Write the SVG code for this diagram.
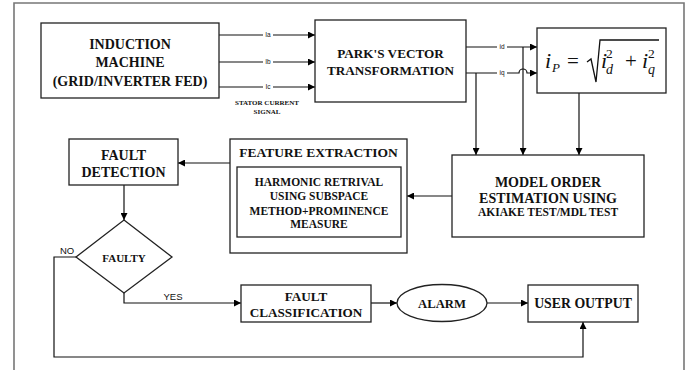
<svg xmlns="http://www.w3.org/2000/svg" width="691" height="370" viewBox="0 0 691 370">
<defs>
<marker id="ah" viewBox="0 0 10 10" refX="10" refY="5" markerWidth="7" markerHeight="7" markerUnits="userSpaceOnUse" orient="auto">
<path d="M0,0 L10,5 L0,10 z" fill="#000"/>
</marker>
<style>
.box{fill:#fff;stroke:#222;stroke-width:1.3}
.t{font-family:"Liberation Serif","Times New Roman",serif;font-weight:bold;fill:#111;text-anchor:middle}
.s{font-family:"Liberation Sans",Arial,sans-serif;fill:#111;text-anchor:middle}
.ln{fill:none;stroke:#111;stroke-width:1.2}
.lab{fill:#fff}
.m{font-family:"Liberation Serif","Times New Roman",serif;font-style:italic;fill:#111}
.mn{font-family:"Liberation Serif","Times New Roman",serif;font-style:normal;fill:#111}
</style>
</defs>
<rect width="691" height="370" fill="#fff"/>
<path d="M14,370 V3 H684 V370" fill="none" stroke="#777" stroke-width="1.6"/>

<g id="connectors">
<line class="ln" x1="219" y1="35" x2="315" y2="35" marker-end="url(#ah)"/>
<line class="ln" x1="219" y1="62" x2="315" y2="62" marker-end="url(#ah)"/>
<line class="ln" x1="219" y1="87" x2="315" y2="87" marker-end="url(#ah)"/>
<rect class="lab" x="263" y="31" width="10" height="8"/>
<rect class="lab" x="263" y="58" width="10" height="8"/>
<rect class="lab" x="263" y="83" width="10" height="8"/>
<text class="s" x="268" y="37.2" font-size="6.5">Ia</text>
<text class="s" x="268" y="64.2" font-size="6.5">Ib</text>
<text class="s" x="268" y="89.2" font-size="6.5">Ic</text>

<line class="ln" x1="466" y1="47" x2="537" y2="47" marker-end="url(#ah)"/>
<path class="ln" d="M466,73 H519 A4,4 0 0 1 527,73 H537" marker-end="url(#ah)"/>
<rect class="lab" x="497" y="43" width="10" height="8"/>
<rect class="lab" x="497" y="69" width="10" height="8"/>
<text class="s" x="502" y="49.2" font-size="6.5">id</text>
<text class="s" x="502" y="75.2" font-size="6.5">iq</text>

<line class="ln" x1="476" y1="73" x2="476" y2="155" marker-end="url(#ah)"/>
<line class="ln" x1="523" y1="47" x2="523" y2="155" marker-end="url(#ah)"/>
<line class="ln" x1="579" y1="93" x2="579" y2="155" marker-end="url(#ah)"/>

<line class="ln" x1="452" y1="196" x2="407" y2="196" marker-end="url(#ah)"/>
<line class="ln" x1="230" y1="163" x2="178" y2="163" marker-end="url(#ah)"/>
<line class="ln" x1="124" y1="185" x2="124" y2="220" marker-end="url(#ah)"/>

<path class="ln" d="M124,293 V303 H241" marker-end="url(#ah)"/>
<line class="ln" x1="371" y1="303" x2="397" y2="303" marker-end="url(#ah)"/>
<line class="ln" x1="487" y1="303" x2="528" y2="303" marker-end="url(#ah)"/>
<path class="ln" d="M76,257 H54 V357 H583 V322" marker-end="url(#ah)"/>
<text class="s" x="67" y="253.5" font-size="9.5">NO</text>
<text class="s" x="173" y="299.5" font-size="9.5">YES</text>
</g>

<g id="induction-machine">
<rect class="box" x="41" y="23" width="178" height="75"/>
<text class="t" x="130" y="49" font-size="14">INDUCTION</text>
<text class="t" x="130" y="67" font-size="14">MACHINE</text>
<text class="t" x="130" y="86" font-size="14">(GRID/INVERTER FED)</text>
<text class="t" x="267" y="104.5" font-size="7">STATOR CURRENT</text>
<text class="t" x="267" y="114" font-size="7">SIGNAL</text>
</g>

<g id="park-transform">
<rect class="box" x="315" y="20" width="151" height="82"/>
<text class="t" x="390.5" y="58" font-size="13.2">PARK'S VECTOR</text>
<text class="t" x="390.5" y="74.5" font-size="13.2">TRANSFORMATION</text>
</g>

<g id="ip-equation">
<rect class="box" x="537" y="28" width="129" height="65"/>
<text class="m" x="545" y="68" font-size="22">i</text>
<text class="m" x="552" y="72" font-size="13">P</text>
<text class="mn" x="567" y="68" font-size="21">=</text>
<path d="M587,62 L591,59 L596,82 L600,40 H659" fill="none" stroke="#111" stroke-width="1.3"/>
<text class="m" x="601" y="68" font-size="22">i</text>
<text class="mn" x="606" y="58" font-size="13.5">2</text>
<text class="m" x="606" y="74" font-size="14">d</text>
<text class="mn" x="625" y="68" font-size="21">+</text>
<text class="m" x="642" y="68" font-size="22">i</text>
<text class="mn" x="648" y="58" font-size="13.5">2</text>
<text class="m" x="648" y="74" font-size="14">q</text>
</g>

<g id="model-order">
<rect class="box" x="452" y="155" width="192" height="82"/>
<text class="t" x="548" y="187" font-size="14">MODEL ORDER</text>
<text class="t" x="548" y="202.5" font-size="14">ESTIMATION USING</text>
<text class="t" x="548" y="216" font-size="11.5">AKIAKE TEST/MDL TEST</text>
</g>

<g id="feature-extraction">
<rect class="box" x="230" y="139" width="177" height="114"/>
<text class="t" x="318.5" y="157" font-size="13.5">FEATURE EXTRACTION</text>
<rect class="box" x="237" y="167" width="164" height="70"/>
<text class="t" x="319" y="186" font-size="11.5">HARMONIC RETRIVAL</text>
<text class="t" x="319" y="200" font-size="11.5">USING SUBSPACE</text>
<text class="t" x="319" y="214.5" font-size="11.5">METHOD+PROMINENCE</text>
<text class="t" x="319" y="228" font-size="11.5">MEASURE</text>
</g>

<g id="fault-detection">
<rect class="box" x="69" y="139" width="109" height="46"/>
<text class="t" x="123.5" y="160" font-size="14">FAULT</text>
<text class="t" x="123.5" y="176.5" font-size="14">DETECTION</text>
</g>

<g id="faulty">
<polygon class="box" points="124,220 172,257 124,293 76,257"/>
<text class="t" x="124" y="262" font-size="11">FAULTY</text>
</g>

<g id="fault-classification">
<rect class="box" x="241" y="285" width="130" height="37"/>
<text class="t" x="306" y="301" font-size="13.2">FAULT</text>
<text class="t" x="306" y="317" font-size="13.2">CLASSIFICATION</text>
</g>

<g id="alarm">
<ellipse class="box" cx="442" cy="303" rx="45" ry="18.5"/>
<text class="t" x="442" y="307.5" font-size="12.7">ALARM</text>
</g>

<g id="user-output">
<rect class="box" x="528" y="285" width="110" height="37"/>
<text class="t" x="583" y="308" font-size="13.8">USER OUTPUT</text>
</g>
</svg>
